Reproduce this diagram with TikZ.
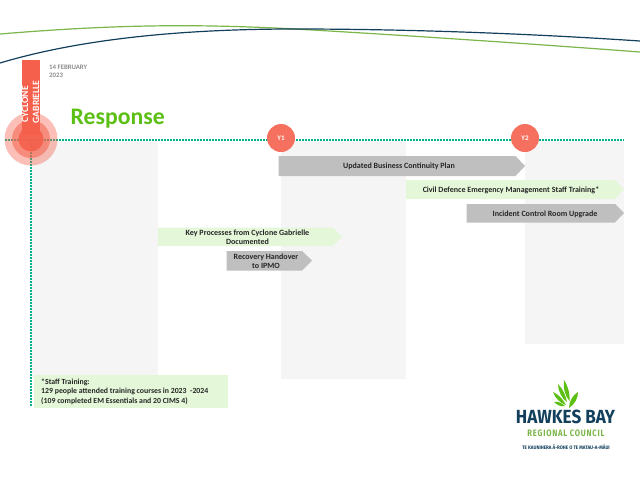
\documentclass[tikz,border=0pt]{standalone}
\usepackage{fontspec}
\setmainfont{Carlito}
\newfontfamily\logofont{Fira Sans}
\definecolor{teal}{HTML}{00B38A}
\definecolor{coral}{HTML}{F4604C}
\definecolor{coralb}{HTML}{F5705E}
\definecolor{panelgray}{HTML}{F5F5F5}
\definecolor{paleg}{HTML}{E4F7D8}
\definecolor{midgray}{HTML}{BFBFBF}
\definecolor{navy}{HTML}{123F5C}
\definecolor{leaf}{HTML}{7AB648}
\definecolor{bright}{HTML}{5CBF14}
\definecolor{dategray}{HTML}{8C8C8C}
\tikzset{
  panel/.style={fill=panelgray,draw=none},
  dotline/.style={teal,line width=1.5pt,dash pattern=on 1.5pt off 1.5pt},
  gbox/.style={fill=midgray,draw=none},
  pbox/.style={fill=paleg,draw=none},
  lab/.style={font=\fontsize{8}{9.3}\selectfont\bfseries,text=black!85,align=center,inner sep=0pt},
  yr/.style={circle,fill=coralb,minimum size=28pt,inner sep=0pt,text=white,font=\fontsize{7}{8}\selectfont\bfseries},
  leafshape/.style={fill=bright,draw=none}
}
\begin{document}
\begin{tikzpicture}[x=1pt,y=-1pt]
\useasboundingbox (0,0) rectangle (640,480);
% curves
\draw[leaf,line width=1.2pt] (0,34) .. controls (120,24) and (200,24) .. (295,29) .. controls (400,35) and (520,43) .. (640,52);
\draw[navy,line width=1.2pt] (0,63) .. controls (90,36) and (200,29) .. (295,29) .. controls (400,29) and (520,33) .. (640,41);
% panels
\fill[panel] (31,141) rectangle (158,378);
\fill[panel] (281,141) rectangle (406,379);
\fill[panel] (525,141) rectangle (624,344);
% dotted lines
\coordinate (hs) at (5,140); \coordinate (he) at (624,140);
\coordinate (vs) at (31,140); \coordinate (ve) at (31,407);
\draw[dotline] (hs) -- (he);
\draw[dotline] (vs) -- (ve);
% cyclone marker
\fill[coral,opacity=.4] (31,139) circle (26.5);
\fill[coral,opacity=.55] (31,139) circle (19);
\fill[coral] (22,60) rectangle (40,135);
\fill[coral,opacity=.9] (31,139) circle (12.5);
\node[rotate=90,anchor=west,font=\fontsize{9.6}{10}\selectfont\bfseries,text=white,inner sep=0pt] (c1) at (25,122.5) {CYCLONE};
\node[rotate=90,anchor=west,font=\fontsize{9.6}{10}\selectfont\bfseries,text=white,inner sep=0pt] (c2) at (36,123.5) {GABRIELLE};
\node[anchor=north west,font=\fontsize{6.8}{8}\selectfont\bfseries,text=dategray,align=left,inner sep=0pt] (date) at (49,64.5) {14 FEBRUARY\\2023};
\node[anchor=west,font=\fontsize{23.7}{25}\selectfont\bfseries,text=bright,inner sep=0pt] (title) at (70.5,118.5) {Response};
% year markers
\node[yr] (y1) at (281,138) {Y1};
\node[yr] (y2) at (525,138) {Y2};
% bars
\fill[gbox] (278.5,156) -- (515.5,156) -- (525,166) -- (515.5,176) -- (278.5,176) -- cycle;
\node[lab] (t1) at (399,166.5) {Updated Business Continuity Plan};
\fill[pbox] (406,180) -- (615,180) -- (624,189.5) -- (615,199) -- (406,199) -- cycle;
\node[lab] (t2) at (511,190) {Civil Defence Emergency Management Staff Training*};
\fill[gbox] (466.5,204) -- (615,204) -- (624,213) -- (615,222.5) -- (466.5,222.5) -- cycle;
\node[lab] (t3) at (545,214) {Incident Control Room Upgrade};
\fill[pbox] (158,227.5) -- (333,227.5) -- (342,236.5) -- (333,246) -- (158,246) -- cycle;
\node[lab] (t4) at (247.5,237.5) {Key Processes from Cyclone Gabrielle\\Documented};
\fill[gbox] (226.5,251) -- (302,251) -- (312,260.5) -- (302,270.5) -- (226.5,270.5) -- cycle;
\node[lab] (t5) at (266,261.5) {Recovery Handover\\to IPMO};
% note
\fill[pbox] (34,375) rectangle (228,408);
\node[lab,anchor=north west,align=left,font=\fontsize{7.8}{9.5}\selectfont\bfseries] (note) at (41,378.5) {*Staff Training:\\129 people attended training courses in 2023\ \ -2024\\(109 completed EM Essentials and 20 CIMS 4)};
% logo
\fill[leafshape] (564,380) .. controls (568,386) and (570,393) .. (569.5,401) .. controls (565,396) and (563,388) .. (564,380) -- cycle;
\fill[leafshape] (558,384) .. controls (563,389) and (566,396) .. (567,402) .. controls (562,399) and (558,391) .. (558,384) -- cycle;
\fill[leafshape] (553,392) .. controls (558,394) and (563,399) .. (566,405) .. controls (560,403) and (555,398) .. (553,392) -- cycle;
\fill[leafshape] (554,402) .. controls (558,401) and (562,403) .. (565,406) .. controls (561,407) and (557,405) .. (554,402) -- cycle;
\fill[leafshape] (578,392) .. controls (578,398) and (575,404) .. (569,408) .. controls (569,401) and (573,395) .. (578,392) -- cycle;
\node[xscale=.9,font=\logofont\fontsize{19}{20}\selectfont\bfseries,text=navy,inner sep=0pt] (hb) at (565.5,416.5) {HAWKES BAY};
\node[xscale=.82,font=\logofont\fontsize{9.3}{10}\selectfont\bfseries,text=leaf,inner sep=0pt] (rc) at (566,433) {\addfontfeature{LetterSpace=10}REGIONAL COUNCIL};
\node[xscale=.9,font=\logofont\fontsize{5}{6}\selectfont\bfseries,text=navy,inner sep=0pt] (tk) at (566,447.5) {TE KAUNIHERA Ā-ROHE O TE MATAU-A-MĀUI};
\end{tikzpicture}
\end{document}
